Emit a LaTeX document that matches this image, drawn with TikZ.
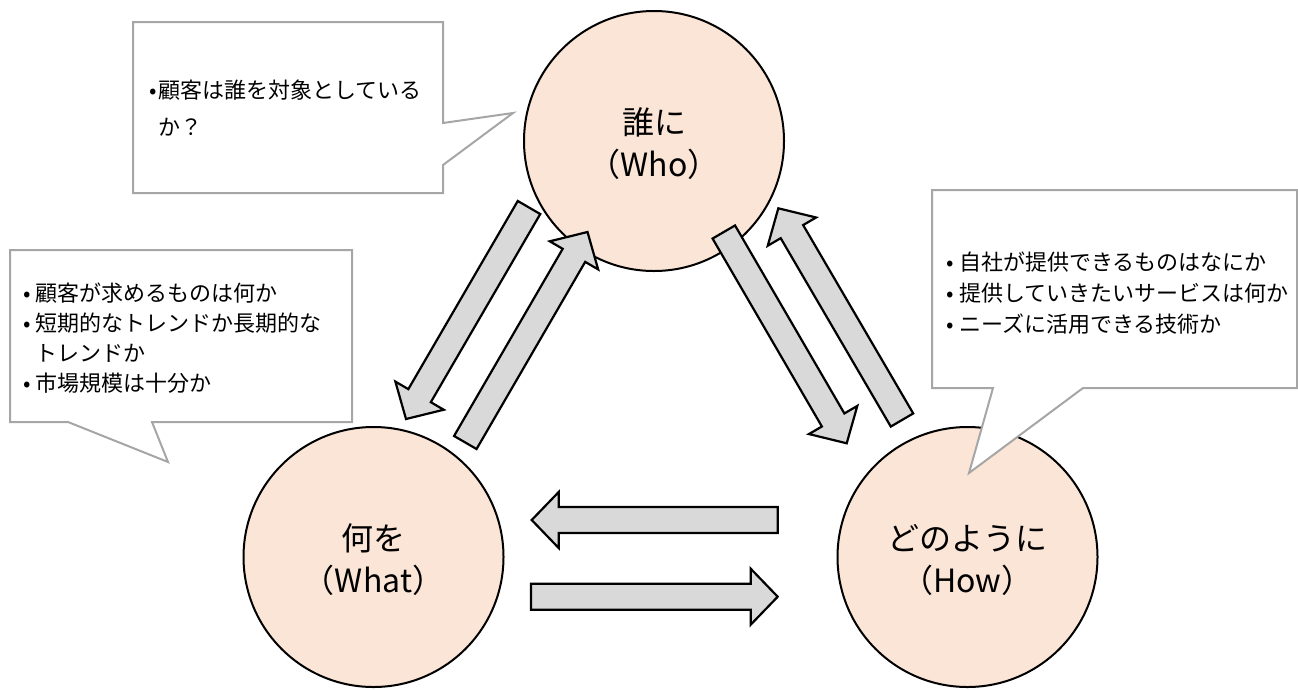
\documentclass[tikz,border=0pt]{standalone}
\usepackage{fontspec}
\setmainfont{Noto Sans CJK JP}
\usetikzlibrary{calc}
\definecolor{peach}{HTML}{FBE5D6}
\definecolor{arrowgray}{HTML}{D9D9D9}
\definecolor{calloutgray}{HTML}{A6A6A6}
\tikzset{
  circ/.style={circle, draw=black, line width=2pt, fill=peach, minimum size=260pt,
    inner sep=0pt, align=center, font=\fontsize{32}{42}\selectfont},
  barrow/.style={draw=black, line width=2.2pt, fill=arrowgray, line join=miter},
  callout/.style={draw=calloutgray, line width=2pt, fill=white, line join=miter},
  ctext/.style={anchor=north west, inner sep=0pt, align=left, font=\fontsize{22}{30}\selectfont}
}
\newcommand\blockarrow[3]{%
  \coordinate (#3h) at ($(#2)!27pt!(#1)$);
  \draw[barrow] ($(#1)!13pt!90:(#2)$) -- ($(#3h)!13pt!90:(#2)$) -- ($(#3h)!28pt!90:(#2)$)
    -- (#2) -- ($(#3h)!28pt!-90:(#2)$) -- ($(#3h)!13pt!-90:(#2)$) -- ($(#1)!13pt!-90:(#2)$) -- cycle;
}
\newcommand\firstline{\rule{0pt}{22pt}}
\begin{document}
\begin{tikzpicture}[x=1pt, y=-1pt]
\useasboundingbox (0,0) rectangle (1298,689);

% circles
\node[circ] (who) at (654,141) {\rule{0pt}{36pt}誰に\\（Who）\rule[-8pt]{0pt}{8pt}};
\node[circ] (what) at (373.5,557) {\rule{0pt}{36pt}何を\\（What）\rule[-8pt]{0pt}{8pt}};
\node[circ] (how) at (967.5,557) {\rule{0pt}{36pt}どのように\\（How）\rule[-8pt]{0pt}{8pt}};

% arrow end points
\coordinate (a1s) at (529,207.5);   \coordinate (a1e) at (406,419);
\coordinate (a2s) at (465.3,442.5); \coordinate (a2e) at (587.5,232);
\coordinate (a3s) at (723.8,232);   \coordinate (a3e) at (846.7,443.3);
\coordinate (a4s) at (902,420);     \coordinate (a4e) at (778.3,208.3);
\coordinate (a5s) at (777.7,520);   \coordinate (a5e) at (531.7,520);
\coordinate (a6s) at (531,596.7);   \coordinate (a6e) at (777.7,596.7);

\blockarrow{a1s}{a1e}{a1}
\blockarrow{a2s}{a2e}{a2}
\blockarrow{a3s}{a3e}{a3}
\blockarrow{a4s}{a4e}{a4}
\blockarrow{a5s}{a5e}{a5}
\blockarrow{a6s}{a6e}{a6}

% callouts
\coordinate (c1tip) at (513,113);
\draw[callout] (133,22) -- (443,22) -- (443,123) -- (c1tip) -- (443,165) -- (443,193) -- (133,193) -- cycle;
\node[ctext, font=\fontsize{22}{37}\selectfont] (t1) at (158,76.4)
  {\firstline\llap{\makebox[10pt]{•}}顧客は誰を対象としている\\か？};

\coordinate (c2tip) at (168,462);
\draw[callout] (10,250) -- (352,250) -- (352,422) -- (152,422) -- (c2tip) -- (68,422) -- (10,422) -- cycle;
\node[ctext] (t2) at (35.5,279.4)
  {\firstline\llap{\makebox[17.6pt]{•}}顧客が求めるものは何か\\
   \llap{\makebox[17.6pt]{•}}短期的なトレンドか長期的な\\
   トレンドか\\
   \llap{\makebox[17.6pt]{•}}市場規模は十分か};

\coordinate (c3tip) at (969,473);
\draw[callout] (932,190) -- (1297,190) -- (1297,388) -- (1083,388) -- (c3tip) -- (993,388) -- (932,388) -- cycle;
\node[ctext, font=\fontsize{22}{31}\selectfont] (t3) at (959,248.1)
  {\firstline\llap{\makebox[18pt]{•}}自社が提供できるものはなにか\\
   \llap{\makebox[18pt]{•}}提供していきたいサービスは何か\\
   \llap{\makebox[18pt]{•}}ニーズに活用できる技術か};
\end{tikzpicture}
\end{document}
